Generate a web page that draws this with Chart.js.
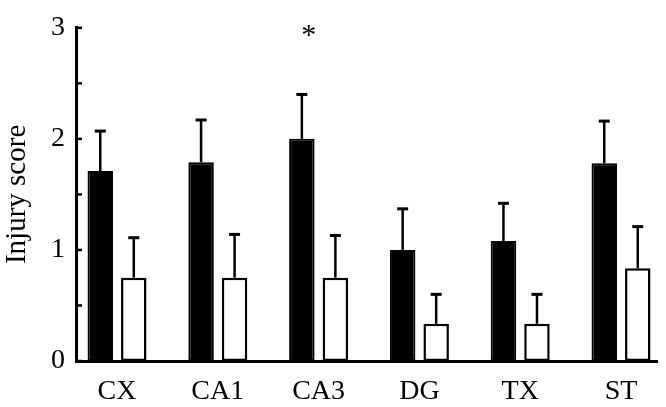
<!DOCTYPE html>
<html lang="en">
<head>
  <meta charset="UTF-8" />
  <title>Injury score</title>
  <script src="https://cdn.jsdelivr.net/npm/chart.js"></script>
  <style>
    body { margin: 0; background: #fff; }
    #wrap { width: 666px; height: 407px; }
  </style>
</head>
<body>
  <div id="wrap"><canvas id="injuryChart" width="666" height="407"></canvas></div>

  <script>
    const regions = ['CX', 'CA1', 'CA3', 'DG', 'TX', 'ST'];
    const blackScores = [1.71, 1.79, 2.0, 1.0, 1.08, 1.78];
    const blackErrors = [0.36, 0.38, 0.40, 0.37, 0.34, 0.38];
    const whiteScores = [0.75, 0.75, 0.75, 0.335, 0.335, 0.835];
    const whiteErrors = [0.36, 0.39, 0.38, 0.265, 0.265, 0.375];
    const significance = ['', '', '*', '', '', ''];
    const yTicks = [0, 1, 2, 3];

    const serif = "'Liberation Serif', 'Times New Roman', serif";

    // upper error bars + significance marks
    const errorBars = {
      id: 'errorBars',
      afterDatasetsDraw(chart) {
        const ctx = chart.ctx;
        const y = chart.scales.y;
        const errs = [blackErrors, whiteErrors];
        ctx.save();
        ctx.strokeStyle = '#000';
        chart.data.datasets.forEach((ds, d) => {
          chart.getDatasetMeta(d).data.forEach((bar, i) => {
            const top = y.getPixelForValue(ds.data[i].y + errs[d][i]);
            ctx.lineWidth = 2.5;
            ctx.beginPath();
            ctx.moveTo(bar.x, bar.y);
            ctx.lineTo(bar.x, top);
            ctx.stroke();
            ctx.lineWidth = 3;
            ctx.beginPath();
            ctx.moveTo(bar.x - 5.5, top);
            ctx.lineTo(bar.x + 5.5, top);
            ctx.stroke();
          });
        });
        const meta = chart.getDatasetMeta(0);
        ctx.fillStyle = '#000';
        ctx.font = '30px ' + serif;
        ctx.textAlign = 'center';
        ctx.textBaseline = 'alphabetic';
        significance.forEach((s, i) => {
          if (!s) return;
          const bar = meta.data[i];
          ctx.fillText(s, bar.x + 7, y.getPixelForValue(blackScores[i] + blackErrors[i] + 0.45));
        });
        ctx.restore();
      }
    };

    // inward tick marks on the y axis
    const innerTicks = {
      id: 'innerTicks',
      afterDraw(chart) {
        const ctx = chart.ctx;
        const y = chart.scales.y;
        const left = chart.chartArea.left;
        ctx.save();
        ctx.strokeStyle = '#000';
        ctx.lineWidth = 2.5;
        y.ticks.forEach(t => {
          const py = y.getPixelForValue(t.value);
          ctx.beginPath();
          ctx.moveTo(left, py);
          ctx.lineTo(left + 6, py);
          ctx.stroke();
        });
        ctx.restore();
      }
    };

    new Chart(document.getElementById('injuryChart'), {
      type: 'bar',
      data: {
        datasets: [
          {
            data: blackScores.map((v, i) => ({ x: i, y: v })),
            backgroundColor: '#000',
            borderColor: '#000',
            borderWidth: 2,
            borderSkipped: false
          },
          {
            data: whiteScores.map((v, i) => ({ x: i, y: v })),
            backgroundColor: '#fff',
            borderColor: '#000',
            borderWidth: 2.5,
            borderSkipped: false
          }
        ]
      },
      options: {
        responsive: false,
        animation: false,
        categoryPercentage: 0.665,
        barPercentage: 0.76,
        layout: { padding: { top: 20, right: 9, left: 0, bottom: 0 } },
        plugins: {
          legend: { display: false },
          tooltip: { enabled: false }
        },
        scales: {
          x: {
            type: 'linear',
            offset: false,
            min: -0.407,
            max: 5.357,
            afterFit: s => { s.height = 46; },
            afterBuildTicks: s => { s.ticks = regions.map((_, i) => ({ value: i })); },
            grid: { display: false, drawTicks: false },
            border: { color: '#000', width: 3 },
            ticks: {
              color: '#000',
              padding: 14,
              maxRotation: 0,
              autoSkip: false,
              font: { family: serif, size: 28 },
              callback: v => regions[v]
            }
          },
          y: {
            min: 0,
            max: 3,
            afterFit: s => { s.width = 76; },
            grid: { display: false, drawTicks: false },
            border: { color: '#000', width: 3 },
            ticks: {
              stepSize: 0.5,
              color: '#000',
              padding: 11,
              font: { family: serif, size: 28 },
              callback: v => yTicks.includes(v) ? v : ''
            },
            title: {
              display: true,
              text: 'Injury score',
              color: '#000',
              padding: 0,
              font: { family: serif, size: 29 }
            }
          }
        }
      },
      plugins: [errorBars, innerTicks]
    });
  </script>
</body>
</html>
